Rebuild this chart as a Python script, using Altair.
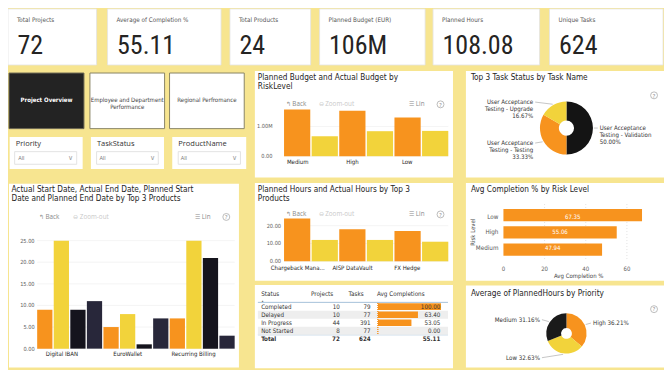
import math
import altair as alt
import pandas as pd

# ======================= DATA =======================
kpi_labels = ["Total Projects", "Average of Completion %", "Total Products",
              "Planned Budget (EUR)", "Planned Hours", "Unique Tasks"]
kpi_values = ["72", "55.11", "24", "106M", "108.08", "624"]

risk_levels = ["Medium", "High", "Low"]
budget_series = ["Planned Budget", "Actual Budget"]
planned_budget = [1565000, 1530000, 1300000]
actual_budget = [670000, 840000, 850000]
budget_ticks = [0, 1000000]
budget_tick_labels = ["0.00", "1.00M"]

task_names = ["User Acceptance Testing - Validation",
              "User Acceptance Testing - Testing",
              "User Acceptance Testing - Upgrade"]
task_share = [50.00, 33.33, 16.67]

date_products = ["Digital IBAN", "EuroWallet", "Recurring Billing"]
date_series = ["Actual Start Date", "Actual End Date", "Planned Start Date", "Planned End Date"]
actual_start = [9, 5, 7]
actual_end = [25, 8, 25]
planned_start = [9, 1, 21]
planned_end = [11, 7, 3]
date_ticks = [0, 5, 10, 15, 20, 25]
date_tick_labels = ["0.00", "5.00", "10.00", "15.00", "20.00", "25.00"]

hour_products = ["Chargeback Mana...", "AISP DataVault", "FX Hedge"]
hour_series = ["Planned Hours", "Actual Hours"]
planned_hours = [24, 18, 17]
actual_hours = [12, 12, 11]
hour_ticks = [0, 10, 20]
hour_tick_labels = ["0.00", "10.00", "20.00"]

completion_levels = ["Low", "High", "Medium"]
completion_values = [67.35, 55.06, 47.94]
completion_ticks = [0, 20, 40, 60]

table_status = ["Completed", "Delayed", "In Progress", "Not Started"]
table_projects = [10, 10, 44, 8]
table_tasks = [79, 77, 391, 77]
table_avg = [100.00, 63.40, 53.05, 0.00]
total_row = ["Total", 72, 624, 55.11]

priorities = ["High", "Low", "Medium"]
priority_share = [36.21, 32.63, 31.16]

# ======================= STYLE / LAYOUT =======================
BG = "#F7E590"
ORANGE = "#F7931E"
YELLOW = "#F2D33B"
BLACK = "#141414"
DARK = "#15141D"
NAVY = "#28273A"
TXT = "#252423"
AX = "#605E5C"
FONT = "DIN, DejaVu Sans Condensed, Liberation Sans Narrow, Roboto Condensed, Roboto, sans-serif"
FONT_NUM = "DIN, Liberation Sans Narrow, Roboto Condensed, DejaVu Sans Condensed, Roboto, sans-serif"
FONT_UI = "Segoe UI, Open Sans, Noto Sans, sans-serif"

W, H = 656, 362


def X(x):
    return round((x - 5) * W / 659, 2)


def Y(y):
    return round((y - 3) * H / 373, 2)


layers = []

# ---------- panels / cards ----------
R = []


def box(x1, y1, x2, y2, fill="white", stroke="white", sw=0.0):
    R.append(dict(x=X(x1), x2=X(x2), y=Y(y1), y2=Y(y2), fill=fill, stroke=stroke, sw=sw))


kpi_boxes = [(5, 94), (105, 219), (228, 309), (318, 424), (432, 539), (549, 663)]
for a, b in kpi_boxes:
    box(a, 4, b, 61.7, "white", "#E3E3E3", 0.8)
box(6, 70, 81.3, 127.3, "#232323", "#6E6A55", 1)
box(87.3, 70, 162.3, 127.3, "white", "#8A8566", 1)
box(167.3, 70, 242.3, 127.3, "white", "#8A8566", 1)
slicer_x = [(6.7, 80), (88.3, 161.7), (170, 244.3)]
for a, b in slicer_x:
    box(a, 136, b, 169)
for a, b in [(11.7, 74), (94, 156), (176, 238.5)]:
    box(a, 151, b, 164, "white", "#DCDCDC", 0.8)
box(253, 68, 452, 177.7)        # budget
box(465, 68, 664, 177.7)        # top 3
box(6, 184, 237, 373.5)         # dates
box(253, 183.3, 452, 284)       # hours
box(465, 183.3, 664, 284)       # avg completion
box(253, 288.5, 452, 374.3)     # table
box(465, 289, 664, 373.5)       # donut 2

layers.append(
    alt.Chart(pd.DataFrame(R)).mark_rect().encode(
        x=alt.X("x:Q", scale=None, axis=None), x2="x2:Q",
        y=alt.Y("y:Q", scale=None, axis=None), y2="y2:Q",
        fill=alt.Fill("fill:N", scale=None),
        stroke=alt.Stroke("stroke:N", scale=None),
        strokeWidth=alt.StrokeWidth("sw:Q", scale=None),
    )
)

# ---------- static rules ----------
RL = [
    dict(x=X(256), x2=X(447), y=Y(306.3), y2=Y(306.3), c="#8FB3D0", w=0.8),
    dict(x=X(256), x2=X(447), y=Y(339.8), y2=Y(339.8), c="#8FB3D0", w=0.6),
]
layers.append(
    alt.Chart(pd.DataFrame(RL)).mark_rule().encode(
        x=alt.X("x:Q", scale=None, axis=None), x2="x2:Q",
        y=alt.Y("y:Q", scale=None, axis=None), y2="y2:Q",
        color=alt.Color("c:N", scale=None), strokeWidth=alt.StrokeWidth("w:Q", scale=None),
    )
)

# ---------- texts ----------
T = []


def txt(x, y, text, size, color=TXT, align="left", baseline="middle", font=FONT,
        weight="normal", lh=None, angle=0):
    T.append(dict(x=X(x), y=Y(y), text=text, size=size, color=color, align=align,
                  baseline=baseline, font=font, weight=weight,
                  lh=lh if lh else round(size * 1.15, 2), angle=angle))


for (a, b), lab, val in zip(kpi_boxes, kpi_labels, kpi_values):
    txt(a + 9, 15.7, lab, 6.3, "#555555")
    txt(a + 9.5, 50.3, val, 26, "#252423", baseline="alphabetic", font=FONT_NUM)

txt(43.7, 98.3, "Project Overview", 6, "white", align="center", weight="bold")
txt(124.8, 98.3, "Employee and Department\nPerformance", 6, "#444444", align="center", lh=6.8)
txt(204.8, 98.3, "Regional Perfromance", 6, "#444444", align="center")

for (a, b), name in zip(slicer_x, ["Priority", "TaskStatus", "ProductName"]):
    txt(a + 6, 143.3, name, 7.5, "#333333", font=FONT_UI)
    txt(a + 8.5, 157.5, "All", 5.5, "#777777", font=FONT_UI)
    txt(b - 12, 157.8, "∨", 6.5, "#9A9A9A", align="center", font=FONT_UI)

TS = 8.2
txt(256, 71, "Planned Budget and Actual Budget by\nRiskLevel", TS, TXT, baseline="top", lh=9.3)
txt(470, 71, "Top 3 Task Status by Task Name", TS, TXT, baseline="top", lh=9.3)
txt(8.5, 186, "Actual Start Date, Actual End Date, Planned Start\nDate and Planned End Date by Top 3 Products",
    TS, TXT, baseline="top", lh=9.3)
txt(256, 186, "Planned Hours and Actual Hours by Top 3\nProducts", TS, TXT, baseline="top", lh=9.3)
txt(470, 186, "Avg Completion % by Risk Level", TS, TXT, baseline="top", lh=9.3)
txt(470, 293.5, "Average of PlannedHours by Priority", TS, TXT, baseline="top", lh=9.3)

for (bx, zx, lx, y) in [(284, 317, 408, 102.3), (36, 70.5, 193, 218.3), (284, 317, 408, 215.7)]:
    txt(bx, y, "↰ Back", 6.3, "#8A8A8A", font=FONT_UI)
    txt(zx, y, "⊖ Zoom-out", 6.3, "#C9C9C9", font=FONT_UI)
    txt(lx, y, "☰ Lin", 6.3, "#8A8A8A", font=FONT_UI)

qmarks = [(439.5, 102.3), (224.3, 218.3), (439.5, 215.7), (654, 93), (654, 313.3)]
for qx, qy in qmarks:
    txt(qx, qy + 0.2, "?", 5.5, "#808080", align="center", font=FONT_UI)

# avg completion axis titles
txt(578.3, 278.8, "Avg Completion %", 6, "#444444", align="center")
txt(471.7, 234, "Risk Level", 6, "#444444", align="center", angle=270)

# table headers
txt(259.3, 298.2, "Status", 6.3, "#333333")
txt(260.6, 304.4, "▴", 3.5, "#666666", align="center")
txt(331.7, 298.2, "Projects", 6.3, "#333333", align="right")
txt(362.3, 298.2, "Tasks", 6.3, "#333333", align="right")
txt(375.7, 298.2, "Avg Completions", 6.3, "#333333")


def text_layers(items):
    df = pd.DataFrame(items)
    out = []
    for key, g in df.groupby(["align", "baseline", "font", "weight", "lh", "angle"], sort=False):
        align, baseline, font, weight, lh, angle = key
        mk = dict(align=align, baseline=baseline, font=font, fontWeight=weight,
                  lineBreak="\n", lineHeight=float(lh))
        if angle:
            mk["angle"] = float(angle)
        out.append(
            alt.Chart(g[["x", "y", "text", "size", "color"]].reset_index(drop=True))
            .mark_text(**mk)
            .encode(
                x=alt.X("x:Q", scale=None, axis=None),
                y=alt.Y("y:Q", scale=None, axis=None),
                text="text:N",
                size=alt.Size("size:Q", scale=None),
                color=alt.Color("color:N", scale=None),
            )
        )
    return out


# "?" circles
layers.append(
    alt.Chart(pd.DataFrame({"x": [X(a) for a, b in qmarks], "y": [Y(b) for a, b in qmarks]}))
    .mark_point(shape="circle", filled=False, color="#8A8A8A", strokeWidth=0.8, size=48)
    .encode(x=alt.X("x:Q", scale=None, axis=None), y=alt.Y("y:Q", scale=None, axis=None))
)


# ---------- grouped bar charts ----------
def grouped_bars(cats, series, values, colors, x0, x1, pad_inner, y_zero, ppu, dmax,
                 ticks, tick_text, tick_right, label_y):
    rows = []
    for ci, c in enumerate(cats):
        for si, s in enumerate(series):
            rows.append(dict(cat=c, series=s, value=values[si][ci], key=f"{c}|{s}"))
    df = pd.DataFrame(rows)
    keys = list(df["key"])
    xs = alt.Scale(domain=keys, range=[X(x0), X(x1)], paddingInner=pad_inner, paddingOuter=0)
    ys = alt.Scale(domain=[0, dmax], range=[Y(y_zero), Y(y_zero - dmax * ppu)], nice=False, zero=False)
    cs = alt.Scale(domain=series, range=colors)
    tk = pd.DataFrame({"v": ticks, "t": tick_text})
    out = [
        alt.Chart(tk).mark_rule(color="#EFEFEF", strokeWidth=0.7).encode(
            y=alt.Y("v:Q", scale=ys, axis=None), x=alt.value(X(x0)), x2=alt.value(X(x1))),
        alt.Chart(df).mark_bar().encode(
            x=alt.X("key:N", scale=xs, axis=None),
            y=alt.Y("value:Q", scale=ys, axis=None),
            color=alt.Color("series:N", scale=cs, legend=None)),
        alt.Chart(tk).mark_text(align="right", baseline="middle", fontSize=5.6, font=FONT, color=AX).encode(
            y=alt.Y("v:Q", scale=ys, axis=None), x=alt.value(X(tick_right)), text="t:N"),
    ]
    n = len(series)
    anchor = [f"{c}|{series[(n - 1) // 2]}" for c in cats]
    band_pos = 1.0 if n % 2 == 0 else 0.5
    lab = pd.DataFrame({"cat": cats, "anchor": anchor})
    out.append(
        alt.Chart(lab).mark_text(baseline="middle", fontSize=6, font=FONT, color=TXT).encode(
            x=alt.X("anchor:N", scale=xs, axis=None, bandPosition=band_pos),
            y=alt.value(Y(label_y)), text="cat:N"))
    return out


layers += grouped_bars(risk_levels, budget_series, [planned_budget, actual_budget], [ORANGE, YELLOW],
                       282.3, 447.3, 0.05, 155.7, 30.67 / 1e6, 1.6e6,
                       budget_ticks, budget_tick_labels, 270.7, 162)
layers += grouped_bars(date_products, date_series, [actual_start, actual_end, planned_start, planned_end],
                       [ORANGE, YELLOW, DARK, NAVY],
                       34.3, 232.7, 0.08, 354, 4.452, 25.5,
                       date_ticks, date_tick_labels, 31.7, 359)
layers += grouped_bars(hour_products, hour_series, [planned_hours, actual_hours], [ORANGE, YELLOW],
                       282.3, 447.3, 0.05, 264, 1.835, 25,
                       hour_ticks, hour_tick_labels, 279.3, 270.6)

# ---------- horizontal bars: avg completion ----------
comp = pd.DataFrame({"level": completion_levels, "value": completion_values})
cxs = alt.Scale(domain=[0, 70], range=[X(502.7), X(502.7 + 70 * 2.067)], nice=False, zero=False)
cys = alt.Scale(domain=completion_levels, range=[Y(210), Y(258.4)], paddingInner=0.29, paddingOuter=0)
ctk = pd.DataFrame({"v": completion_ticks, "t": [str(v) for v in completion_ticks]})
layers += [
    alt.Chart(ctk[ctk.v > 0]).mark_rule(color="#D6D6D6", strokeWidth=0.7, strokeDash=[1, 2]).encode(
        x=alt.X("v:Q", scale=cxs, axis=None), y=alt.value(Y(205)), y2=alt.value(Y(263))),
    alt.Chart(comp).mark_bar(color=ORANGE).encode(
        y=alt.Y("level:N", scale=cys, axis=None), x=alt.X("value:Q", scale=cxs, axis=None)),
    alt.Chart(comp).transform_calculate(mid="datum.value / 2").mark_text(
        color="white", fontSize=6, font=FONT, baseline="middle").encode(
        y=alt.Y("level:N", scale=cys, axis=None), x=alt.X("mid:Q", scale=cxs, axis=None),
        text=alt.Text("value:Q", format=".2f")),
    alt.Chart(comp).mark_text(align="right", baseline="middle", fontSize=6.3, font=FONT, color="#555555").encode(
        y=alt.Y("level:N", scale=cys, axis=None), x=alt.value(X(497.7)), text="level:N"),
    alt.Chart(ctk).mark_text(baseline="middle", fontSize=6, font=FONT, color=AX).encode(
        x=alt.X("v:Q", scale=cxs, axis=None), y=alt.value(Y(271.7)), text="t:N"),
]

# ---------- table ----------
tab = pd.DataFrame({
    "status": table_status + [total_row[0]],
    "projects": table_projects + [total_row[1]],
    "tasks": table_tasks + [total_row[2]],
    "avg": table_avg + [total_row[3]],
})
tab["avg_txt"] = tab["avg"].map(lambda v: f"{v:.2f}")
tab["shade"] = [i % 2 for i in range(len(tab))]
tab["is_total"] = tab["status"] == "Total"
tys = alt.Scale(domain=list(tab["status"]), range=[Y(306.6), Y(347.9)], paddingInner=0, paddingOuter=0)
txs = alt.Scale(domain=[0, 100], range=[X(376.7), X(440)], nice=False, zero=False)
body = tab[~tab.is_total]
layers += [
    alt.Chart(body[body.shade == 1]).mark_rect(color="#EEEEEE").encode(
        y=alt.Y("status:N", scale=tys, axis=None), x=alt.value(X(256)), x2=alt.value(X(447))),
    alt.Chart(body).mark_bar(color=ORANGE, height={"band": 0.82}).encode(
        y=alt.Y("status:N", scale=tys, axis=None), x=alt.X("avg:Q", scale=txs, axis=None)),
    alt.Chart(body).mark_rule(color=ORANGE, strokeWidth=0.6, strokeDash=[1, 1]).encode(
        x=alt.value(X(376.5)), y=alt.value(Y(307)), y2=alt.value(Y(339.3))),
]
for sub, weight in [(body, "normal"), (tab[tab.is_total], "bold")]:
    for field, xpos, align in [("status", 259.3, "left"), ("projects", 338.3, "right"),
                               ("tasks", 369.3, "right"), ("avg_txt", 439.3, "right")]:
        layers.append(
            alt.Chart(sub).mark_text(align=align, baseline="middle", fontSize=6.2, font=FONT,
                                     color="#333333", fontWeight=weight).encode(
                y=alt.Y("status:N", scale=tys, axis=None), x=alt.value(X(xpos)),
                text=f"{field}:N"))


# ---------- donuts ----------
def donut(names, vals, colors, labels, cx, cy, r_out, r_in, rx, ry, fsize, lh):
    total = float(sum(vals))
    cum, mids = 0.0, []
    for v in vals:
        mids.append((cum + v / 2) / total * 2 * math.pi)
        cum += v
    df = pd.DataFrame({"name": names, "value": vals, "order": list(range(len(vals))), "label": labels})
    df["side"] = [1 if math.sin(m) > 1e-9 else -1 for m in mids]
    df["lx"] = df["side"] * rx
    df["ly"] = [-math.cos(m) * ry for m in mids]
    df["ex"] = [math.sin(m) * (r_out + 1) for m in mids]
    df["ey"] = [-math.cos(m) * (r_out + 1) for m in mids]
    df["kx"] = df["side"] * (rx - 2)
    px, py = X(cx), Y(cy)
    sx = alt.Scale(domain=[-100, 100], range=[px - 100, px + 100], nice=False, zero=False)
    sy = alt.Scale(domain=[-100, 100], range=[py - 100, py + 100], nice=False, zero=False)
    out = [
        alt.Chart(df).mark_arc(outerRadius=r_out, innerRadius=r_in).encode(
            theta=alt.Theta("value:Q", stack=True),
            order=alt.Order("order:Q"),
            color=alt.Color("name:N", scale=alt.Scale(domain=names, range=colors), legend=None),
            x=alt.value(px), y=alt.value(py)),
        alt.Chart(df).mark_rule(color="#A0A0A0", strokeWidth=0.6).encode(
            x=alt.X("ex:Q", scale=sx, axis=None), y=alt.Y("ey:Q", scale=sy, axis=None),
            x2="kx:Q", y2="ly:Q"),
    ]
    for side, align in [(1, "left"), (-1, "right")]:
        sub = df[df.side == side]
        if len(sub):
            out.append(
                alt.Chart(sub).mark_text(align=align, baseline="middle", fontSize=fsize, font=FONT,
                                         color="#333333", lineBreak="\n", lineHeight=lh).encode(
                    x=alt.X("lx:Q", scale=sx, axis=None), y=alt.Y("ly:Q", scale=sy, axis=None),
                    text="label:N"))
    return out


task_total = sum(task_share)
task_labels = [n.replace("Acceptance ", "Acceptance\n") + f"\n{v / task_total * 100:.2f}%"
               for n, v in zip(task_names, task_share)]
layers += donut(task_names, task_share, [BLACK, ORANGE, YELLOW], task_labels,
                566, 126.7, 26.5, 7.6, 33.3, 30, 6.1, 7.2)

pr_total = sum(priority_share)
pr_labels = [f"{n} {v / pr_total * 100:.2f}%" for n, v in zip(priorities, priority_share)]
layers += donut(priorities, priority_share, [ORANGE, YELLOW, "#1A1A1A"], pr_labels,
                566, 338.3, 20.2, 5.4, 26.5, 24.6, 6.2, 7.2)

layers += text_layers(T)

chart = (
    alt.layer(*layers)
    .resolve_scale(x="independent", y="independent", color="independent", theta="independent")
    .properties(width=W, height=H, background=BG, padding=0, autosize="none")
    .configure_view(stroke=None)
)

chart.save("out.html", embed_options={"renderer": "svg", "actions": False})
